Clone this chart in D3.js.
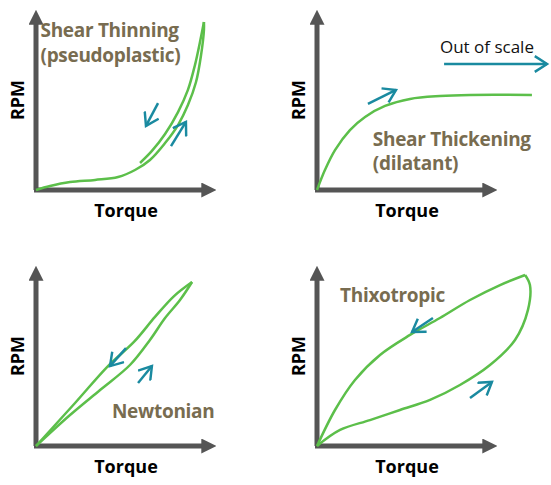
<!DOCTYPE html><html><head><meta charset="utf-8"><script src="https://cdn.jsdelivr.net/npm/d3@7"></script>
<style>body{margin:0;background:#fff}text{font-family:"Open Sans",sans-serif}</style></head><body><svg id="c" width="551" height="485"></svg>
<script>
const thinUpX=[0,7.8,18.9,32.8,45.6,55,63.3,71.7,78.9,84.4,88.9,91.7,93.3,93.3];
const thinUpY=[0,2.2,4.4,5.6,7.2,11.1,16.7,26.1,36.1,47.2,60,75,88.9,93.3];
const thinDnX=[93.3,91.1,88.3,84.4,78.9,71.7,64.4,57.8];
const thinDnY=[93.3,82.2,69.4,55.6,43.3,31.1,21.7,15];
const thickX=[0,4.4,10,18.3,26.7,37.8,51.7,68.3,85,119.4];
const thickY=[0,11.1,22.2,33.3,40.6,46.7,50.6,52.2,52.8,52.8];
const newtUpX=[0,18.9,35.6,52.2,63.3,71.7,80,86.7];
const newtUpY=[0,17.2,31.1,45,58.9,71.1,81.1,91.1];
const newtDnX=[86.7,76.7,66.1,54.4,40,21.7,0];
const newtDnY=[91.1,83.3,71.7,57.8,44.4,23.9,0];
const thixLoX=[0,12.8,29.4,46.1,62.8,79.4,96.1,110,117.2,118.3,115.6];
const thixLoY=[0,8.9,14.4,20,25.6,33.9,45,58.9,75.6,89.4,95];
const thixHiX=[115.6,101.7,85,68.3,51.7,35,21.1,10,0];
const thixHiY=[95,89.4,81.1,71.1,61.7,50.6,36.7,20,0];
const axisLabels=["RPM","Torque"];
const svg=d3.select("#c");
const defs=svg.append("defs");
defs.append("marker").attr("id","ah").attr("viewBox","0 0 10 10").attr("refX",5).attr("refY",5).attr("markerWidth",3).attr("markerHeight",3).attr("orient","auto").append("path").attr("d","M0,0L10,5L0,10z").attr("fill","#555");
defs.append("marker").attr("id","bh").attr("viewBox","0 0 10 10").attr("refX",8).attr("refY",5).attr("markerWidth",7).attr("markerHeight",7).attr("orient","auto").append("path").attr("d","M1,0.5L8,5L1,9.5").attr("fill","none").attr("stroke","#1a8aa0").attr("stroke-width",1.4);
const green="#5cbf4a",blue="#1a8aa0",brown="#786c50";
function panel(ox,oy,series,arrows,labels){
 const x=d3.scaleLinear().domain([0,100]).range([ox,ox+180]);
 const y=d3.scaleLinear().domain([0,100]).range([oy,oy-180]);
 const g=svg.append("g");
 g.append("line").attr("x1",x(0)).attr("y1",y(0)).attr("x2",x(0)).attr("y2",y(96)).attr("stroke","#555").attr("stroke-width",5).attr("marker-end","url(#ah)");
 g.append("line").attr("x1",x(0)-2).attr("y1",y(0)).attr("x2",x(96)).attr("y2",y(0)).attr("stroke","#555").attr("stroke-width",5).attr("marker-end","url(#ah)");
 g.append("text").attr("transform",`translate(${x(0)-12},${y(50)}) rotate(-90)`).attr("text-anchor","middle").attr("font-weight","bold").attr("font-size",18).text(axisLabels[0]);
 g.append("text").attr("x",x(50)).attr("y",y(0)+27).attr("text-anchor","middle").attr("font-weight","bold").attr("font-size",18).text(axisLabels[1]);
 const line=d3.line().x(d=>x(d[0])).y(d=>y(d[1])).curve(d3.curveCatmullRom);
 series.forEach(([xs,ys])=>g.append("path").attr("d",line(xs.map((v,i)=>[v,ys[i]]))).attr("fill","none").attr("stroke",green).attr("stroke-width",2.5));
 arrows.forEach(a=>g.append("line").attr("x1",x(a[0])).attr("y1",y(a[1])).attr("x2",x(a[2])).attr("y2",y(a[3])).attr("stroke",blue).attr("stroke-width",2.5).attr("marker-end","url(#bh)"));
 labels.forEach(l=>g.append("text").attr("x",x(l[0])).attr("y",y(l[1])).attr("font-size",l[3]||19).attr("font-weight",l[4]||"bold").attr("fill",l[5]||brown).attr("letter-spacing",l[4]?0:-0.3).text(l[2]));
}
panel(36,190,[[thinUpX,thinUpY],[thinDnX,thinDnY]],[[67.8,48.3,61.1,35.6],[75,24.4,83.3,37.8]],[[2.5,85,"Shear Thinning"],[2.5,71,"(pseudoplastic)"]]);
panel(317,190,[[thickX,thickY]],[[28.3,47.8,43.9,55.6],[70.6,70,127.8,70]],[[31,24.5,"Shear Thickening"],[31,11,"(dilatant)"],[68.3,76,"Out of scale",17,"normal","#111"]]);
panel(36,446,[[newtUpX,newtUpY],[newtDnX,newtDnY]],[[50,54.4,41.1,44.4],[56.7,35,64.4,44.4]],[[42.2,15.6,"Newtonian"]]);
panel(317,446,[[thixLoX,thixLoY],[thixHiX,thixHiY]],[[64.4,71.1,52.8,63.3],[85,26.7,97.2,35.6]],[[12.8,80,"Thixotropic"]]);
</script></body></html>
